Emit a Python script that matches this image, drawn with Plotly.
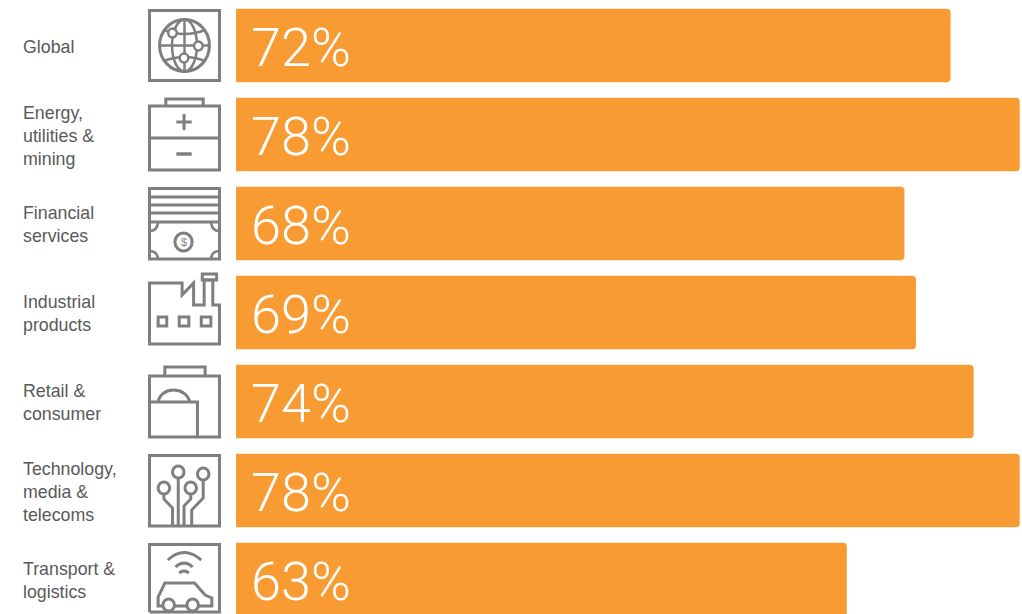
import re
import plotly.graph_objects as go

categories = ["Global", "Energy,<br>utilities &<br>mining", "Financial<br>services", "Industrial<br>products",
              "Retail &<br>consumer", "Technology,<br>media &<br>telecoms", "Transport &<br>logistics"]
values = [72, 78, 68, 69, 74, 78, 63]
labels = ["72%", "78%", "68%", "69%", "74%", "78%", "63%"]

W, H = 1022, 614
BAR = "#F99B33"
GREY = "#7F7F7F"
TEXT = "#595959"


def fx(x):
    """Icon x in picture pixels, pulled slightly in so the outer stroke edge sits on 148..221."""
    return 149.5 + (x - 148) * 70 / 73


def px_path(d):
    def rep(m):
        return f"{fx(float(m.group(1))) / W:.5f},{1 - float(m.group(2)) / H:.5f}"
    return re.sub(r"(-?[\d.]+),(-?[\d.]+)", rep, d)


shapes = []


def path(d, width=3):
    shapes.append(dict(type="path", xref="paper", yref="paper", path=px_path(d),
                       line=dict(color=GREY, width=width), fillcolor="rgba(0,0,0,0)"))


def circle(cx, cy, r, width=3, rx=None, fill="rgba(0,0,0,0)"):
    rx = r if rx is None else rx
    shapes.append(dict(type="circle", xref="paper", yref="paper",
                       x0=fx(cx - rx) / W, x1=fx(cx + rx) / W, y0=1 - (cy + r) / H, y1=1 - (cy - r) / H,
                       line=dict(color=GREY, width=width), fillcolor=fill))


def rect(x0, y0, x1, y1, width=3):
    path(f"M{x0},{y0} L{x1},{y0} L{x1},{y1} L{x0},{y1} Z", width)


# Global
rect(148, 10.5, 221, 80.5)
circle(184.5, 45.5, 26)
circle(184.5, 45.5, 26, 2.5, rx=13)
path("M184.5,19 L184.5,72", 2.5)
path("M158,45.5 L211,45.5", 2.5)
path("M163,30 Q184.5,38 206,30", 2.5)
path("M163,61 Q184.5,53 206,61", 2.5)
for cx, cy in [(172, 33), (199, 46), (184, 58)]:
    circle(cx, cy, 4.5, 2.5, fill="white")

# Battery
rect(148, 106, 221, 170)
path("M165,106 L165,99 L204,99 L204,106")
path("M148,138 L221,138")
path("M176,122 L192,122 M184,114 L184,130")
path("M176,154 L192,154", 3.5)

# Money
rect(148, 188.5, 221, 259)
for yy in (197, 205, 213, 222):
    path(f"M148,{yy} L221,{yy}")
circle(183.5, 242, 9)
path("M148,231 Q156,231 157,222 M221,231 Q213,231 212,222", 2.5)
path("M148,251 Q156,251 157,259 M221,251 Q213,251 212,259", 2.5)

# Factory
path("M148,283 L182,283 L182,295 L194,283 L194,305 L205,305 L205,280 L214,280 L214,305 L221,305 L221,344 L148,344 Z")
rect(203, 274, 218, 280)
rect(157, 317, 166, 326)
rect(179, 317, 189, 326)
rect(202, 317, 212, 326)

# Retail
rect(148, 376, 221, 437)
path("M164,376 L164,367 L206,367 L206,376")
path("M148,402 L198,402 L198,437")
path("M157,402 C160,386 186,386 190,402")

# Technology
rect(148, 455.5, 221, 526)
for cx, cy in [(178, 472), (204, 474), (163, 488), (191, 488)]:
    circle(cx, cy, 6)
path("M178,478 L178,526")
path("M163,494 L163,499 L172,508 L172,526")
path("M191,494 L191,499 L184,506 L184,526")
path("M204,480 L204,498 L192,510 L192,526")

# Transport
path("M148,612 L148,544.5 L221,544.5 L221,612 L148,612")
path("M167,560 Q184,545 202,560")
path("M175,567 Q184,559 193,567")
path("M179,573 Q184,569 189,573")
path("M162,606 L157,606 L157,597 L164,583 L195,583 L206,595 L213,598 L213,606 L199,606 M174,606 L187,606")
circle(168, 605, 6)
circle(193, 605, 6)

fig = go.Figure(go.Bar(
    y=list(range(len(values))), x=values, orientation="h",
    marker=dict(color=BAR, line=dict(width=0)), width=0.826, hoverinfo="skip",
))

annotations = []
for i, (c, l) in enumerate(zip(categories, labels)):
    annotations.append(dict(x=21 / W, xref="paper", y=i, yref="y", text=c, showarrow=False, yshift=-1.5,
                            xanchor="left", yanchor="middle", align="left",
                            font=dict(family="Liberation Sans", size=17.8, color=TEXT)))
    annotations.append(dict(x=10, xref="x", y=i, yref="y", text=l, showarrow=False, xshift=13, yshift=-2,
                            xanchor="left", yanchor="middle",
                            font=dict(family="Roboto", weight=300, size=54, color="white")))
annotations.append(dict(x=fx(183.5) / W, xref="paper", y=1 - 242 / H, yref="paper", text="$", showarrow=False,
                        xanchor="center", yanchor="middle",
                        font=dict(family="Liberation Sans", size=11, color=GREY)))

fig.update_layout(
    width=W, height=H, margin=dict(l=0, r=0, t=0, b=0), autosize=False,
    paper_bgcolor="white", plot_bgcolor="white", showlegend=False, barcornerradius=4,
    xaxis=dict(domain=[236 / W, 1], range=[10, 78.2], visible=False, fixedrange=True),
    yaxis=dict(domain=[0, 1], range=[6.388, -0.511], visible=False, fixedrange=True),
    shapes=shapes, annotations=annotations,
)
fig.write_html("out.html", config=dict(displayModeBar=False),
               post_script="document.body.style.margin='0';")
